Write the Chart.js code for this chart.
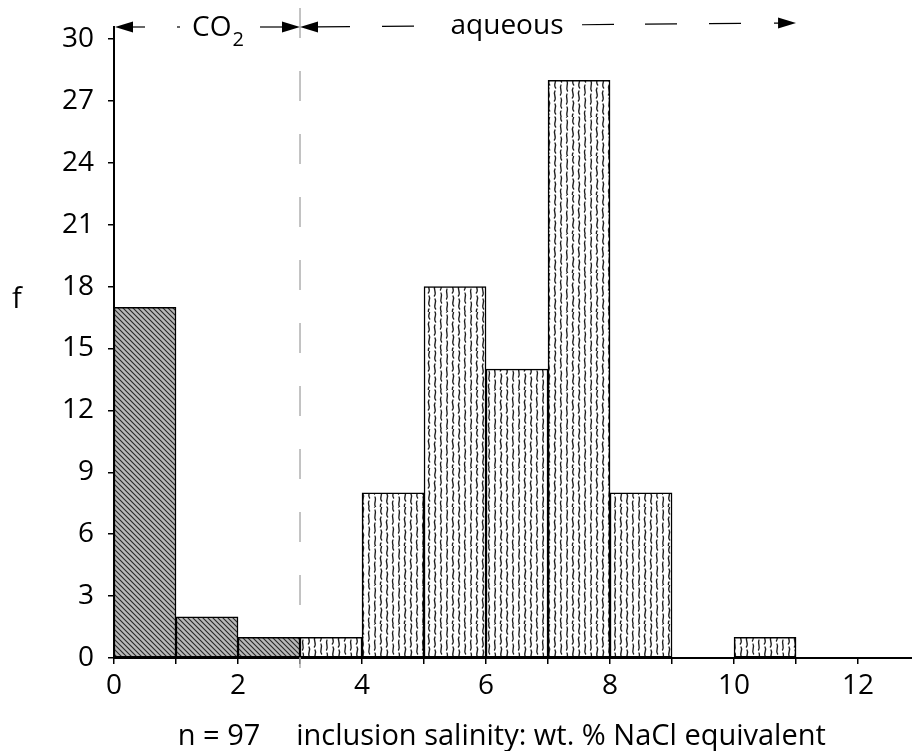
<!DOCTYPE html>
<html>
<head>
<meta charset="utf-8">
<script src="https://cdn.jsdelivr.net/npm/chart.js@4.4.0/dist/chart.umd.min.js"></script>
<style>
  html, body { margin: 0; padding: 0; background: #fff; }
  #wrap { width: 912px; height: 751px; }
</style>
</head>
<body>
<div id="wrap"><canvas id="chart"></canvas></div>
<script>
// histogram bins (wt. % NaCl eq.), width 1
const binStarts = [0, 1, 2, 3, 4, 5, 6, 7, 8, 9, 10, 11, 12];
const counts    = [17, 2, 1, 1, 8, 18, 14, 28, 8, 0, 1, 0, 0];
const inclusionType = ['CO2', 'CO2', 'CO2', 'aq', 'aq', 'aq', 'aq', 'aq', 'aq', 'aq', 'aq', 'aq', 'aq'];
const xTickMarks = [0, 1, 2, 3, 4, 5, 6, 7, 8, 9, 10, 11, 12];
const xTickLabels = ['0', '', '2', '', '4', '', '6', '', '8', '', '10', '', '12'];
const sampleSize = 97;
const xTitle = 'inclusion salinity: wt. % NaCl equivalent';
const yTitle = 'f';

const FONT = '"Open Sans", "Noto Sans", sans-serif';

function hatchPattern() {
  const s = 5;
  const c = document.createElement('canvas');
  c.width = s; c.height = s;
  const g = c.getContext('2d');
  g.fillStyle = '#b8b8b8';
  g.fillRect(0, 0, s, s);
  g.strokeStyle = '#262626';
  g.lineWidth = 1.1;
  g.beginPath();
  g.moveTo(-1, -1); g.lineTo(s + 1, s + 1);
  g.moveTo(s - 1, -1); g.lineTo(s + 1, 1);
  g.moveTo(-1, s - 1); g.lineTo(1, s + 1);
  g.stroke();
  return g.createPattern(c, 'repeat');
}

// short wavy vertical dashes
function wavyPattern() {
  const w = 24, h = 39;
  const c = document.createElement('canvas');
  c.width = w; c.height = h;
  const g = c.getContext('2d');
  g.fillStyle = '#fff';
  g.fillRect(0, 0, w, h);
  g.strokeStyle = '#1e1e1e';
  g.lineWidth = 1.35;
  g.lineCap = 'round';
  const cols = [3, 9, 15, 21];
  const shift = [0, 7, 3, 10];
  const bend = [2.2, -2, 1.7, -2.4];
  cols.forEach((x, i) => {
    for (let k = -1; k < 4; k++) {
      const y0 = shift[i] + k * 13;
      const b = (k % 2 === 0) ? bend[i] : -bend[i];
      g.beginPath();
      g.moveTo(x, y0);
      g.bezierCurveTo(x + b, y0 + 3, x - b, y0 + 7, x + b * 0.3, y0 + 10);
      g.stroke();
    }
  });
  return g.createPattern(c, 'repeat');
}

const fills = { CO2: hatchPattern(), aq: wavyPattern() };

const annotations = {
  id: 'annotations',
  beforeDatasetsDraw(chart) {
    const { ctx, scales: { x } } = chart;
    ctx.save();
    ctx.strokeStyle = '#b0b0b0';
    ctx.lineWidth = 1.5;
    ctx.setLineDash([30, 33]);
    ctx.beginPath();
    ctx.moveTo(x.getPixelForValue(3), 8);
    ctx.lineTo(x.getPixelForValue(3), 684);
    ctx.stroke();
    ctx.restore();
  },
  afterDraw(chart) {
    const { ctx, chartArea, scales: { x } } = chart;
    const x0 = x.getPixelForValue(0);
    const x3 = x.getPixelForValue(3);
    const x11 = x.getPixelForValue(11);
    ctx.save();
    ctx.strokeStyle = '#000';
    ctx.fillStyle = '#000';

    // y axis runs up to the arrow
    ctx.lineWidth = 2;
    ctx.beginPath();
    ctx.moveTo(x0, chartArea.top);
    ctx.lineTo(x0, 26);
    ctx.stroke();

    const head = (tx, ty, dir) => {
      ctx.beginPath();
      ctx.moveTo(tx, ty);
      ctx.lineTo(tx + dir * 18, ty - 5.5);
      ctx.lineTo(tx + dir * 18, ty + 5.5);
      ctx.closePath();
      ctx.fill();
    };
    const seg = (a, b, ya, yb) => {
      ctx.beginPath();
      ctx.moveTo(a, ya);
      ctx.lineTo(b, yb);
      ctx.stroke();
    };

    ctx.lineWidth = 1.2;
    // CO2 range
    const yc = 27;
    head(x0 + 1, yc, 1);
    seg(x0 + 15, x0 + 31, yc, yc);
    seg(x0 + 63, x0 + 66, yc, yc);
    seg(x3 - 40, x3 - 16, yc, yc);
    head(x3, yc, -1);

    // aqueous range (slightly rising to the right)
    const ya = (px) => 27 - 4 * (px - x3) / (x11 - x3);
    head(x3, ya(x3), 1);
    seg(x3 + 16, x3 + 50, ya(x3 + 16), ya(x3 + 50));
    [[82, 114], [282, 314], [345, 377], [409, 441], [474, 484]].forEach(([a, b]) => {
      seg(x3 + a, x3 + b, ya(x3 + a), ya(x3 + b));
    });
    head(x11, ya(x11), -1);

    ctx.textBaseline = 'alphabetic';
    ctx.textAlign = 'left';
    ctx.font = '28px ' + FONT;
    ctx.fillText('CO', 192, 36);
    const coW = ctx.measureText('CO').width;
    ctx.font = '20px ' + FONT;
    ctx.fillText('2', 192 + coW + 1, 46);
    ctx.font = '28px ' + FONT;
    ctx.textAlign = 'center';
    ctx.fillText('aqueous', 507, 34);

    // axis titles
    ctx.font = '29px ' + FONT;
    ctx.fillText(yTitle, 17, 308);
    ctx.fillText('n = ' + sampleSize, 219, 745);
    ctx.fillText(xTitle, 561, 745);
    ctx.restore();
  }
};

new Chart(document.getElementById('chart'), {
  type: 'bar',
  data: {
    datasets: [{
      data: binStarts.map((b, i) => ({ x: b + 0.5, y: counts[i] })),
      backgroundColor: (c) => fills[inclusionType[c.dataIndex]] || '#fff',
      borderColor: '#000',
      borderWidth: 1.5,
      borderSkipped: false,
      barPercentage: 1,
      categoryPercentage: 1
    }]
  },
  options: {
    responsive: true,
    maintainAspectRatio: false,
    animation: false,
    layout: { padding: { left: 0, right: 0, top: 39, bottom: 0 } },
    plugins: { legend: { display: false }, tooltip: { enabled: false } },
    scales: {
      x: {
        type: 'linear',
        min: 0,
        max: 12.87,
        offset: false,
        afterFit: (s) => { s.height = 93; },
        afterBuildTicks: (s) => { s.ticks = xTickMarks.map(v => ({ value: v })); },
        border: { color: '#000', width: 2 },
        grid: { offset: false, drawOnChartArea: false, color: '#000', lineWidth: 1.5, tickLength: 6 },
        ticks: {
          color: '#000',
          padding: 5,
          font: { family: FONT, size: 28 },
          maxRotation: 0,
          autoSkip: false,
          callback: (v, i) => xTickLabels[i]
        }
      },
      y: {
        min: 0,
        max: 30,
        afterFit: (s) => { s.width = 114; },
        border: { color: '#000', width: 2 },
        grid: { drawOnChartArea: false, color: '#000', lineWidth: 1.5, tickLength: 6 },
        ticks: {
          stepSize: 3,
          color: '#000',
          padding: 14,
          font: { family: FONT, size: 28 }
        }
      }
    }
  },
  plugins: [annotations]
});
</script>
</body>
</html>
